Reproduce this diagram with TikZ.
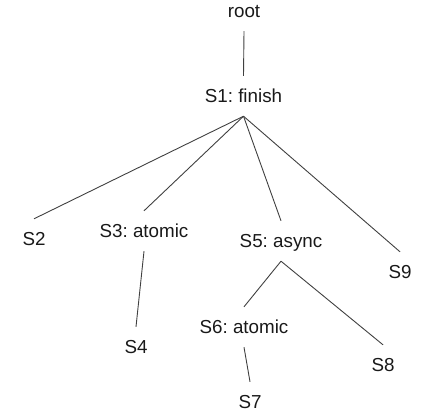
\documentclass[tikz,border=0pt]{standalone}
\usepackage{fontspec}
\setmainfont{Liberation Sans}
\frenchspacing
\begin{document}
\begin{tikzpicture}[x=1pt,y=-1pt,
  lbl/.style={anchor=base,inner xsep=2pt,inner ysep=12pt,text height=14pt,text depth=2pt,
    font=\fontsize{18.8}{22}\selectfont\frenchspacing,text=black!90},
  edge/.style={draw=black!75,line width=0.9pt}]
\useasboundingbox (0,0) rectangle (433,415);
\node[lbl] (root) at (244,17) {root};
\node[lbl] (s1) at (243.5,102) {S1: finish};
\node[lbl] (s2) at (34,245) {S2};
\node[lbl] (s3) at (144,237) {S3: atomic};
\node[lbl] (s5) at (281,247) {S5: async};
\node[lbl] (s9) at (400,278) {S9};
\node[lbl] (s4) at (136,353) {S4};
\node[lbl] (s6) at (244,333) {S6: atomic};
\node[lbl] (s8) at (383,371) {S8};
\node[lbl] (s7) at (250,408) {S7};
\draw[edge] (root.south) -- (s1.north);
\draw[edge] (s1.south) -- (s2.north);
\draw[edge] (s1.south) -- (s3.north);
\draw[edge] (s1.south) -- (s5.north);
\draw[edge] (s1.south) -- (s9.north);
\draw[edge] (s3.south) -- (s4.north);
\draw[edge] (s5.south) -- (s6.north);
\draw[edge] (s5.south) -- (s8.north);
\draw[edge] (s6.south) -- (s7.north);
\end{tikzpicture}
\end{document}
